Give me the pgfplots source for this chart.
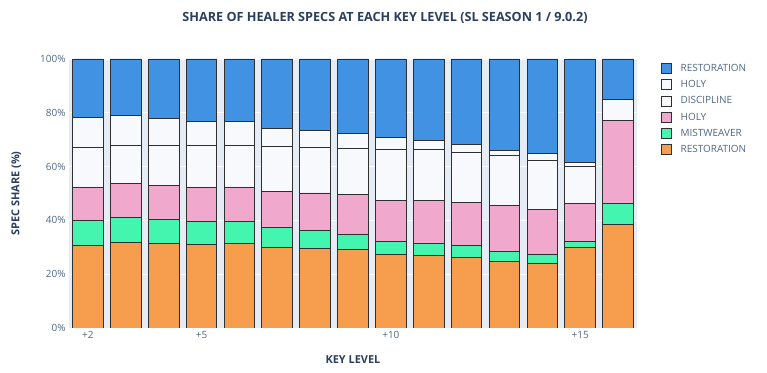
\documentclass[border=0pt]{standalone}
\usepackage{pgfplots}
\usepackage{pgfplotstable}
\pgfplotsset{compat=1.18}
\usepackage{fontspec}
\setmainfont{Open Sans}
\definecolor{txt}{HTML}{2A3F5F}
\definecolor{tickc}{HTML}{506784}
\definecolor{bg}{HTML}{E5ECF6}
\definecolor{cblue}{HTML}{4192E2}
\definecolor{corange}{HTML}{F79D4E}
\definecolor{cgreen}{HTML}{43F5AF}
\definecolor{cpink}{HTML}{F0A8CC}
\definecolor{cwhite}{HTML}{F8F9FC}
\definecolor{edge}{HTML}{2F2F2F}

\pgfplotstableread{
k  rdru  mw   hpal disc hpri rsha
2  30.6  9.3  12.3 14.8 11.1 21.9
3  31.7  9.4  12.5 14.2 11.3 20.9
4  31.4  9.1  12.5 14.8 10.0 22.2
5  31.0  8.5  12.6 15.9  8.9 23.1
6  31.4  8.1  12.6 15.9  8.7 23.3
7  30.0  7.3  13.3 16.8  6.9 25.7
8  29.4  6.9  13.9 16.8  6.6 26.4
9  29.1  5.7  14.8 17.2  5.4 27.8
10 27.5  4.7  15.2 19.0  4.3 29.3
11 27.0  4.4  16.0 18.8  3.4 30.4
12 26.3  4.3  16.2 18.4  3.2 31.6
13 24.8  3.5  17.1 18.6  1.9 34.1
14 24.1  3.3  16.6 18.3  2.6 35.1
15 29.8  2.4  14.0 14.0  1.3 38.5
16 38.4  7.9  30.7  0.2  7.7 15.1
}\datatable

\begin{document}
\begin{tikzpicture}
\path[use as bounding box] (0,0) rectangle (767bp,373bp);
\node[font=\bfseries\fontsize{12.7}{15}\selectfont, text=txt] at (385bp,355bp) {SHARE OF HEALER SPECS AT EACH KEY LEVEL (SL SEASON 1 / 9.0.2)};
\begin{axis}[
  at={(69bp,45bp)}, anchor=south west,
  scale only axis, width=568bp, height=269bp,
  ybar stacked, bar width=0.81,
  xmin=1.5, xmax=16.5, ymin=0, ymax=100,
  axis background/.style={fill=bg},
  axis line style={draw=none},
  xtick={2,5,10,15}, xticklabels={+2,+5,+10,+15},
  ytick={0,20,...,100}, yticklabel={\pgfmathprintnumber{\tick}\%},
  ymajorgrids, grid style={white, line width=0.8pt},
  major tick length=0pt,
  tick label style={font=\fontsize{10}{11}\selectfont, text=tickc},
  /pgf/number format/assume math mode=true,
  xlabel={KEY LEVEL}, ylabel={SPEC SHARE (\%)},
  label style={font=\bfseries\fontsize{11}{13}\selectfont, text=txt},
  xlabel style={at={(axis description cs:0.5,-0.119)}, anchor=center},
  ylabel style={at={(axis description cs:-0.093,0.5)}, anchor=center},
  every axis plot/.append style={draw=edge, line width=0.9pt},
  reverse legend,
  legend image code/.code={\draw[#1, line width=0.6pt] (0bp,-5bp) rectangle (10bp,5bp);},
  legend style={at={(1.042,0.99)}, anchor=north west, draw=none, fill=none,
    inner sep=0pt, row sep=3.6bp, column sep=7bp, font=\fontsize{10}{11}\selectfont, text=tickc,
    nodes={inner sep=2pt}},
  legend cell align=left,
]
\addplot[fill=corange] table[x=k,y=rdru]{\datatable};
\addlegendentry{RESTORATION}
\addplot[fill=cgreen] table[x=k,y=mw]{\datatable};
\addlegendentry{MISTWEAVER}
\addplot[fill=cpink] table[x=k,y=hpal]{\datatable};
\addlegendentry{HOLY}
\addplot[fill=cwhite] table[x=k,y=disc]{\datatable};
\addlegendentry{DISCIPLINE}
\addplot[fill=cwhite] table[x=k,y=hpri]{\datatable};
\addlegendentry{HOLY}
\addplot[fill=cblue] table[x=k,y=rsha]{\datatable};
\addlegendentry{RESTORATION}
\end{axis}
\end{tikzpicture}
\end{document}
